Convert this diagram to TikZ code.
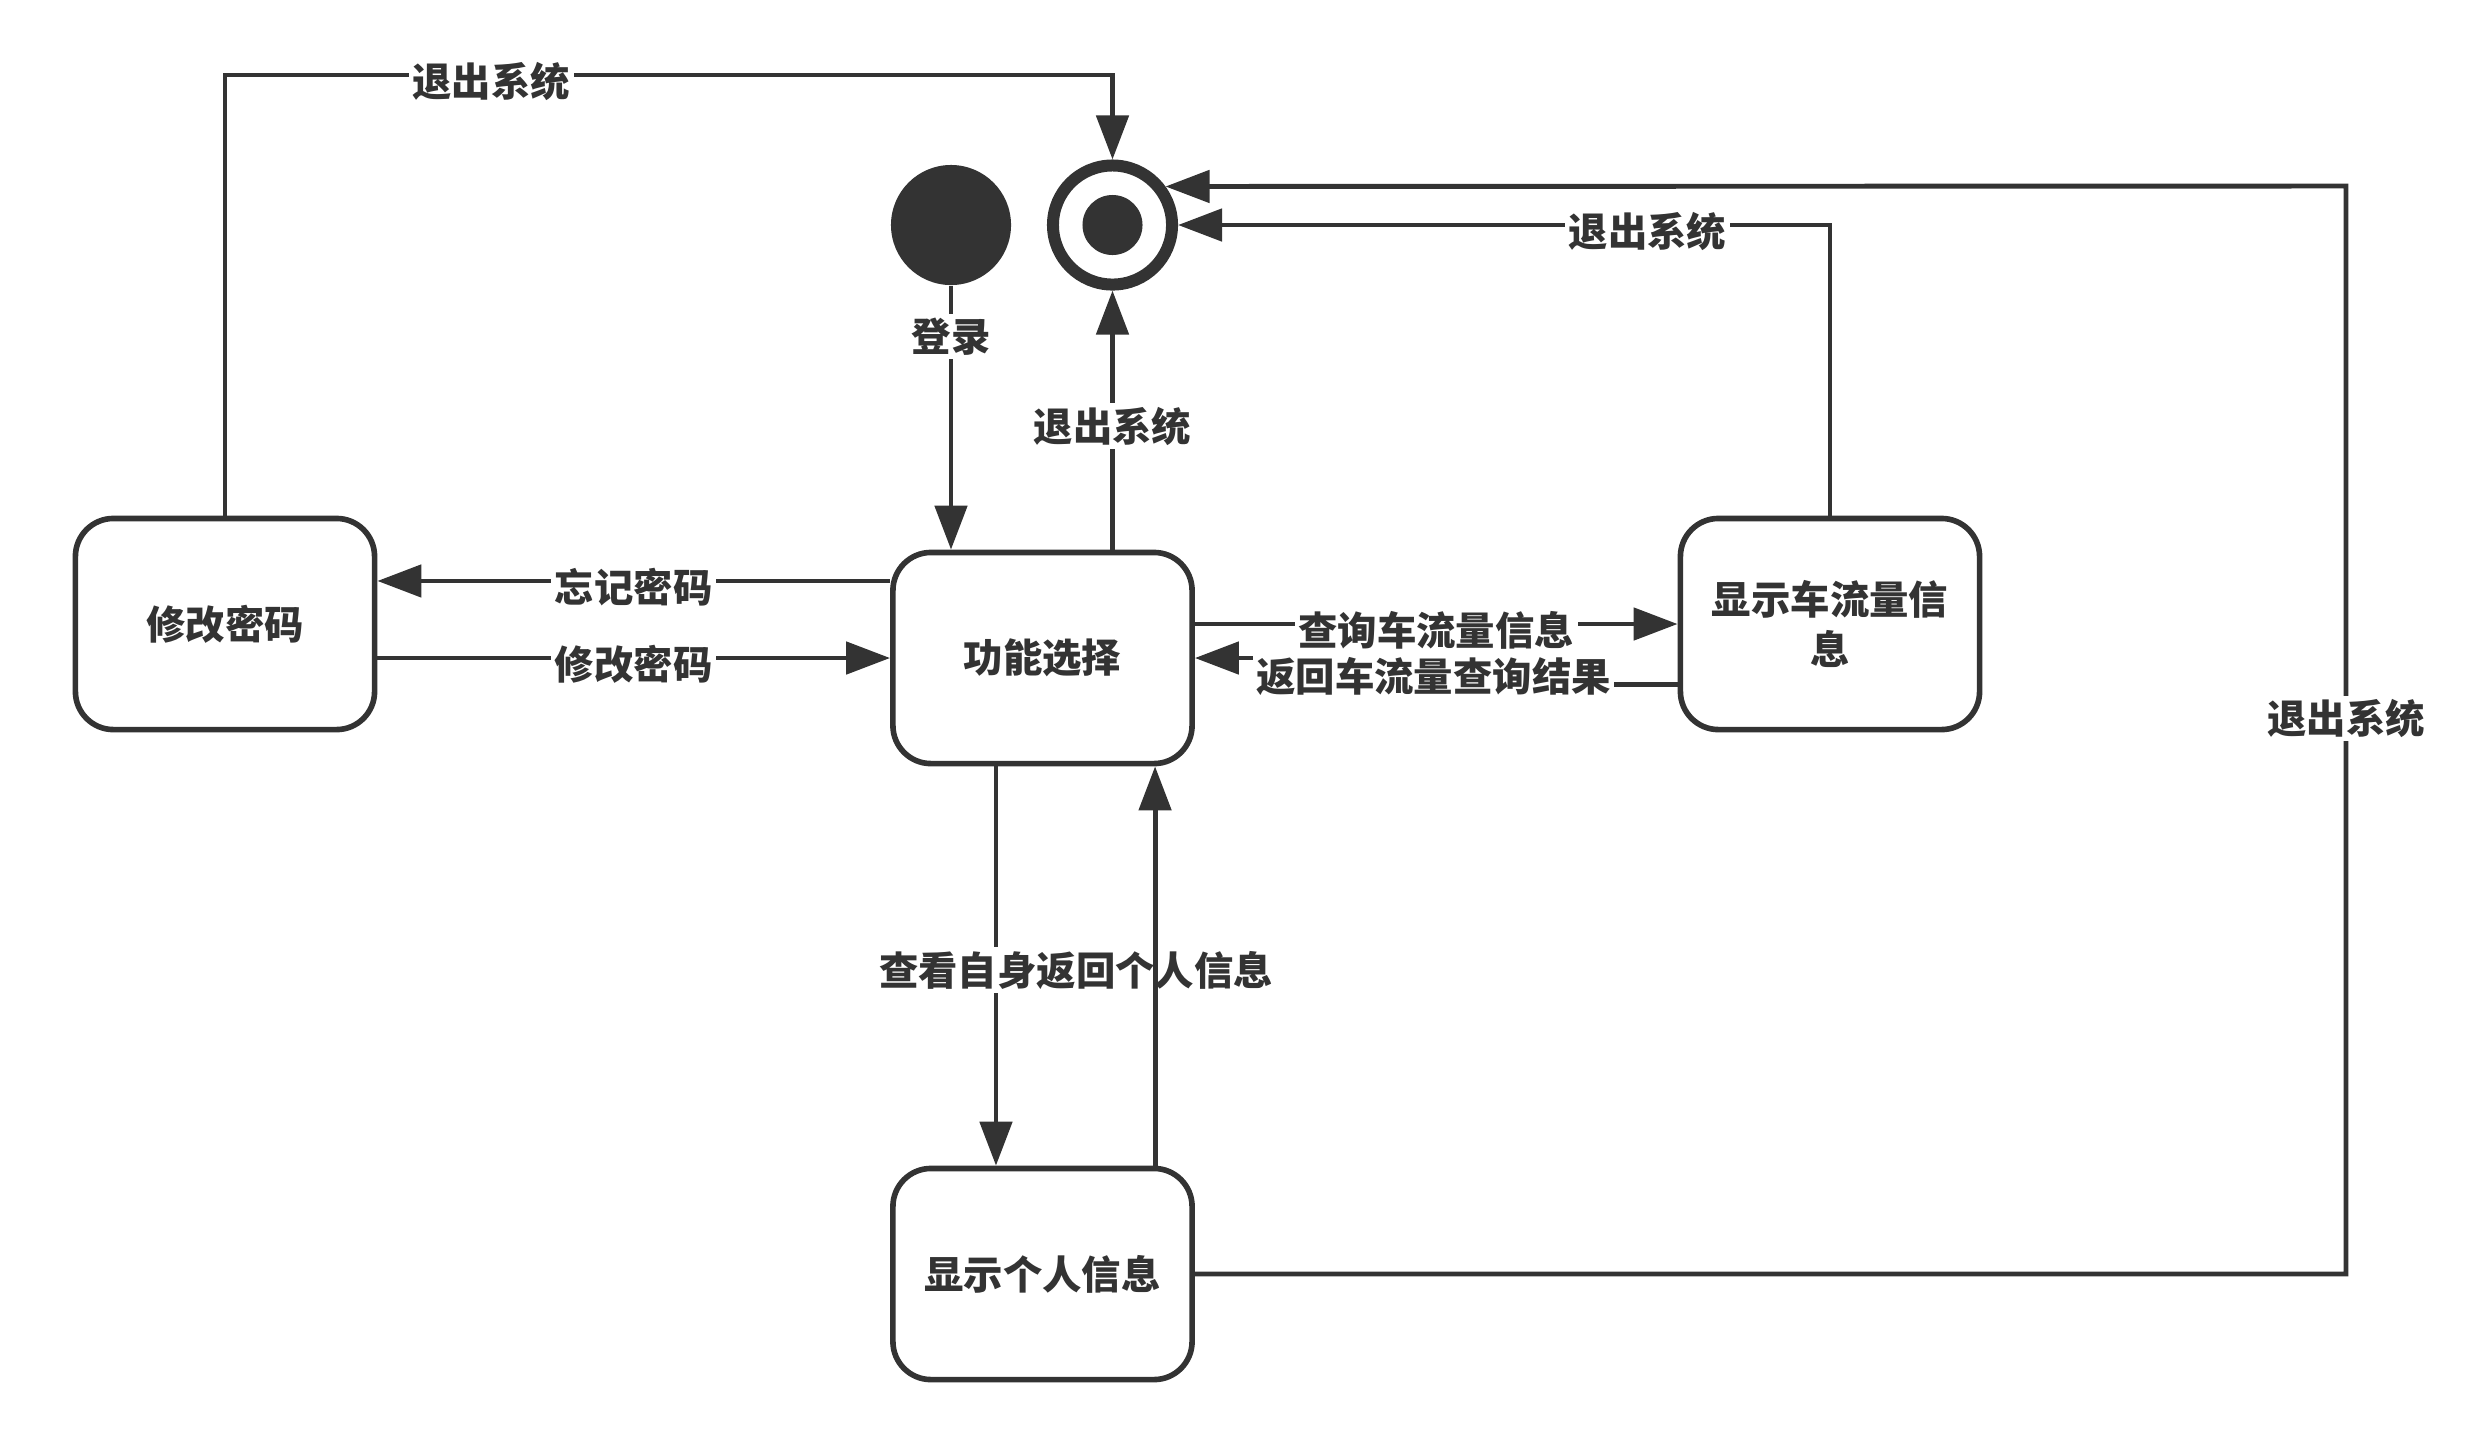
\documentclass[tikz,border=0pt]{standalone}
\usepackage{fontspec}
\newfontfamily\cjk{Noto Sans CJK SC}
\usetikzlibrary{arrows.meta}
\definecolor{ink}{HTML}{333333}

\begin{document}
\begin{tikzpicture}[x=0.01cm, y=-0.01cm, font=\cjk\bfseries\fontsize{11.2}{14}\selectfont, color=ink,
  state/.style={draw=ink, line width=1.6pt, rounded corners=0.38cm, minimum width=2.99cm, minimum height=2.11cm, align=center, fill=white},
  arr/.style={draw=ink, line width=1.4pt, -{Triangle[length=0.44cm, width=0.32cm]}},
  lbl/.style={fill=white, inner sep=1pt, text=ink, yshift=-0.06cm}]
\useasboundingbox (0,0) rectangle (2469,1453);
% states
\node[state] (pw) at (225,624) {修改密码};
\node[state] (func) at (1042.5,658) {功能选择};
\node[state] (disp) at (1830,624) {显示车流量信\\息};
\node[state] (info) at (1042.5,1274) {显示个人信息};
\node[circle, fill=ink, minimum size=1.2cm, inner sep=0] (start) at (951,225) {};
\node[circle, draw=ink, line width=0.12cm, minimum size=1.19cm, inner sep=0] (final) at (1112.5,225) {};
\node[circle, fill=ink, minimum size=0.6cm, inner sep=0] (finaldot) at (final) {};
\coordinate (topy) at (0,75);
\coordinate (rightx) at (2346,186);
\coordinate (f1) at ([yshift=0.77cm]func.west);
\coordinate (r1) at ([yshift=-0.6cm]disp.west);
% transitions
\draw[arr] (start) -- (start |- func.north) node[lbl, pos=0.17] {登录};
\draw[arr] (final.south |- func.north) -- (final.south) node[lbl, midway] {退出系统};
\draw[arr] (pw.north) |- (topy -| final.north) node[lbl, pos=0.65] {退出系统} -- (final.north);
\draw[arr] (disp.north) |- (final.east) node[lbl, pos=0.64] {退出系统};
\draw[arr] (info.east) -| (rightx) node[lbl, pos=0.758] {退出系统} -- (final.36.5);
\draw[arr] (f1) -- (f1 -| pw.east) node[lbl, midway] {忘记密码};
\draw[arr] (pw.east |- func.west) -- (func.west) node[lbl, midway] {修改密码};
\draw[arr] (func.east |- disp.west) -- (disp.west) node[lbl, midway] {查询车流量信息};
\draw[arr] (r1) -- ++(-244,0) node[lbl, at end, yshift=0.14cm] {返回车流量查询结果} |- (func.east);
\draw[arr] ([xshift=-0.465cm]func.south) -- ([xshift=-0.465cm]info.north) node[lbl, pos=0.495, xshift=0.8cm] {查看自身返回个人信息};
\draw[arr] ([xshift=1.125cm]info.north) -- ([xshift=1.125cm]func.south);
\end{tikzpicture}
\end{document}
